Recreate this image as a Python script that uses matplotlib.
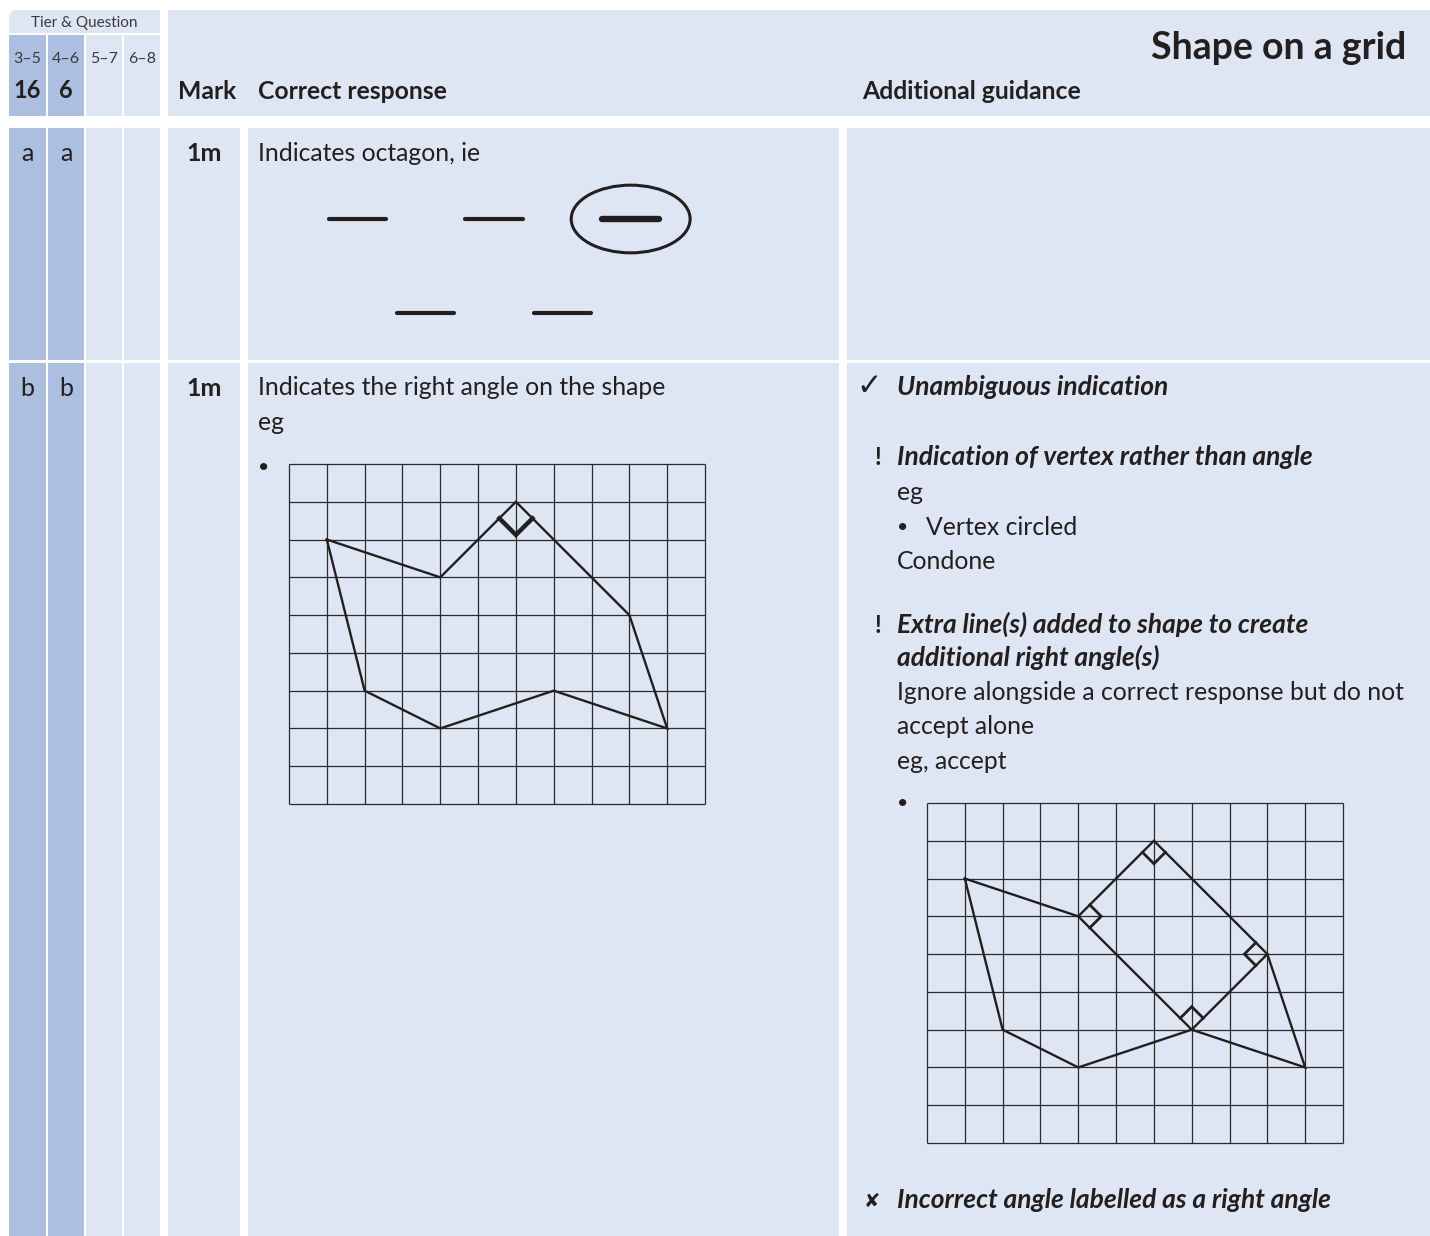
import numpy as np
import matplotlib.pyplot as plt
from matplotlib.patches import Rectangle, Ellipse, FancyBboxPatch

W, H = 1430, 1236

LIGHT = '#dfe6f3'
DARK = '#adbfe0'
INK = '#231f20'

plt.rcParams['font.family'] = ['Lato', 'DejaVu Sans']

title = 'Shape on a grid'
tier_caption = 'Tier & Question'
tier_ranges = ['3–5', '4–6', '5–7', '6–8']
tier_numbers = ['16', '6', '', '']
tier_active = [True, True, False, False]
header_titles = ['Mark', 'Correct response', 'Additional guidance']
part_labels = ['a', 'b']
marks = ['1m', '1m']

# answer options for part a (column, row) - the circled one is the octagon
option_col = [0, 1, 2, 0.5, 1.5]
option_row = [0, 0, 0, 1, 1]
option_chosen = 2

# the shape on an 11 x 9 grid, (column, row) counted from the top-left corner
grid_cols, grid_rows = 11, 9
shape_x = [1, 4, 6, 9, 10, 7, 4, 2]
shape_y = [2, 3, 1, 4, 7, 6, 7, 6]
# extra lines drawn in the accepted example
extra_x = [4, 7, 9]
extra_y = [3, 6, 4]
# right angles: vertex, neighbour, neighbour
right_angle_ok = [((6, 1), (4, 3), (9, 4))]
right_angles_extra = [((6, 1), (4, 3), (9, 4)),
                      ((4, 3), (6, 1), (7, 6)),
                      ((9, 4), (6, 1), (7, 6)),
                      ((7, 6), (4, 3), (9, 4))]

guidance_lines = [
    # (symbol, text, style, baseline)
    ('✓', 'Unambiguous indication', 'head', 395),
    ('!', 'Indication of vertex rather than angle', 'head', 465),
    ('', 'eg', 'body', 500),
    ('•', 'Vertex circled', 'bullet', 535),
    ('', 'Condone', 'body', 569),
    ('!', 'Extra line(s) added to shape to create', 'head', 633),
    ('', 'additional right angle(s)', 'head', 666),
    ('', 'Ignore alongside a correct response but do not', 'body', 700),
    ('', 'accept alone', 'body', 734),
    ('', 'eg, accept', 'body', 769),
    ('✘', 'Incorrect angle labelled as a right angle', 'head', 1208),
]

fig = plt.figure(figsize=(W / 100, H / 100), dpi=100)
ax = fig.add_axes([0, 0, 1, 1])
ax.set_xlim(0, W)
ax.set_ylim(H, 0)
ax.axis('off')


def box(x0, y0, x1, y1, color):
    ax.add_patch(Rectangle((x0, y0), x1 - x0, y1 - y0, facecolor=color,
                           edgecolor='none'))


tier_x = [(9, 46), (48, 84), (86, 122), (124, 160)]
rows_y = [(128, 360), (363, 1236)]
main_x = [(168, 240), (248, 839), (847, 1430)]

# header
ax.add_patch(FancyBboxPatch((9, 10), 151, 23, boxstyle='round,pad=0,rounding_size=8',
                            facecolor=LIGHT, edgecolor='none'))
box(20, 10, 160, 33, LIGHT)
box(9, 20, 160, 33, LIGHT)
ax.text(84.5, 27, tier_caption, ha='center', va='baseline', fontsize=11,
        color='#3a3a3a')
for (x0, x1), active, rng, num in zip(tier_x, tier_active, tier_ranges, tier_numbers):
    box(x0, 35, x1, 116, DARK if active else LIGHT)
    cx = (x0 + x1) / 2
    ax.text(cx, 63, rng, ha='center', va='baseline', fontsize=11.5, color='#3a3a3a')
    ax.text(cx, 98, num, ha='center', va='baseline', fontsize=17, color=INK,
            fontweight='bold')
box(168, 10, 1430, 116, LIGHT)
ax.text(1406, 59, title, ha='right', va='baseline', fontsize=27, color=INK,
        fontweight='bold')
for xpos, label in zip([178, 258, 862], header_titles):
    ax.text(xpos, 99, label, ha='left', va='baseline', fontsize=17.8, color=INK,
            fontweight='bold')

# body rows
for (y0, y1), part, mark in zip(rows_y, part_labels, marks):
    for (x0, x1), active in zip(tier_x, tier_active):
        box(x0, y0, x1, y1, DARK if active else LIGHT)
    for (x0, x1) in main_x:
        box(x0, y0, x1, y1, LIGHT)
    for (x0, x1) in tier_x[:2]:
        ax.text((x0 + x1) / 2, y0 + 33, part, ha='center', va='baseline',
                fontsize=18, color=INK)
    ax.text(204, y0 + 33, mark, ha='center', va='baseline', fontsize=18,
            color=INK, fontweight='bold')

body_kw = dict(ha='left', va='baseline', fontsize=17.8, color=INK)
ax.text(258, 161, 'Indicates octagon, ie', **body_kw)
ax.text(258, 395, 'Indicates the right angle on the shape', **body_kw)
ax.text(258, 430, 'eg', **body_kw)
ax.text(264, 467, '•', ha='center', va='center', fontsize=14, color=INK)

# part a options
oax = fig.add_axes([289 / W, 1 - 360 / H, 410 / W, 188 / H])
oax.set_xlim(-0.5, 2.5)
oax.set_ylim(1.5, -0.5)
oax.axis('off')
for i, (c, r) in enumerate(zip(option_col, option_row)):
    lw = 4.6 if i == option_chosen else 3.0
    oax.plot([c - 0.21, c + 0.21], [r, r], color=INK, lw=lw,
             solid_capstyle='round')
    if i == option_chosen:
        oax.add_patch(Ellipse((c, option_row[i]), 0.87, 0.72, facecolor='none',
                              edgecolor=INK, lw=2.2))


def right_angle(gax, v, a, b, size, lw):
    v = np.array(v, float)
    u1 = np.array(a, float) - v
    u2 = np.array(b, float) - v
    u1 /= np.linalg.norm(u1)
    u2 /= np.linalg.norm(u2)
    pts = np.array([v + size * u1, v + size * (u1 + u2), v + size * u2])
    gax.plot(pts[:, 0], pts[:, 1], color=INK, lw=lw, solid_joinstyle='miter')


def draw_grid(px0, py0, px1, py1, extra, angles, size, angle_lw):
    gax = fig.add_axes([px0 / W, 1 - py1 / H, (px1 - px0) / W, (py1 - py0) / H])
    gax.set_xlim(0, grid_cols)
    gax.set_ylim(grid_rows, 0)
    gax.axis('off')
    gax.vlines(range(grid_cols + 1), 0, grid_rows, color='#2b2b2b', lw=0.9,
               clip_on=False)
    gax.hlines(range(grid_rows + 1), 0, grid_cols, color='#2b2b2b', lw=0.9,
               clip_on=False)
    gax.plot(shape_x + shape_x[:1], shape_y + shape_y[:1], color=INK, lw=1.7,
             solid_joinstyle='miter')
    if extra:
        gax.plot(extra_x, extra_y, color=INK, lw=1.7)
    for v, a, b in angles:
        right_angle(gax, v, a, b, size, angle_lw)


draw_grid(289, 464, 705, 804, False, right_angle_ok, 0.62, 3.2)
draw_grid(927, 803, 1343, 1143, True, right_angles_extra, 0.43, 2.0)

# guidance column
for sym, text, style, base in guidance_lines:
    if style == 'head':
        ax.text(897, base, text, ha='left', va='baseline', fontsize=19, color=INK,
                fontweight='bold', fontstyle='italic')
        if sym == '✓':
            ax.text(869, base, sym, ha='center', va='baseline', fontsize=22,
                    color=INK, family=['DejaVu Sans'])
        elif sym == '!':
            ax.text(878, base, sym, ha='center', va='baseline', fontsize=17,
                    color=INK, fontweight='bold')
        elif sym:
            ax.text(872, base - 1, sym, ha='center', va='baseline', fontsize=14,
                    color=INK, family=['DejaVu Sans'])
    elif style == 'bullet':
        ax.text(903, base - 8, sym, ha='center', va='center', fontsize=14, color=INK)
        ax.text(926, base, text, **body_kw)
    else:
        ax.text(897, base, text, **body_kw)
ax.text(903, 803, '•', ha='center', va='center', fontsize=14, color=INK)

fig.savefig('out.png', dpi=100)
